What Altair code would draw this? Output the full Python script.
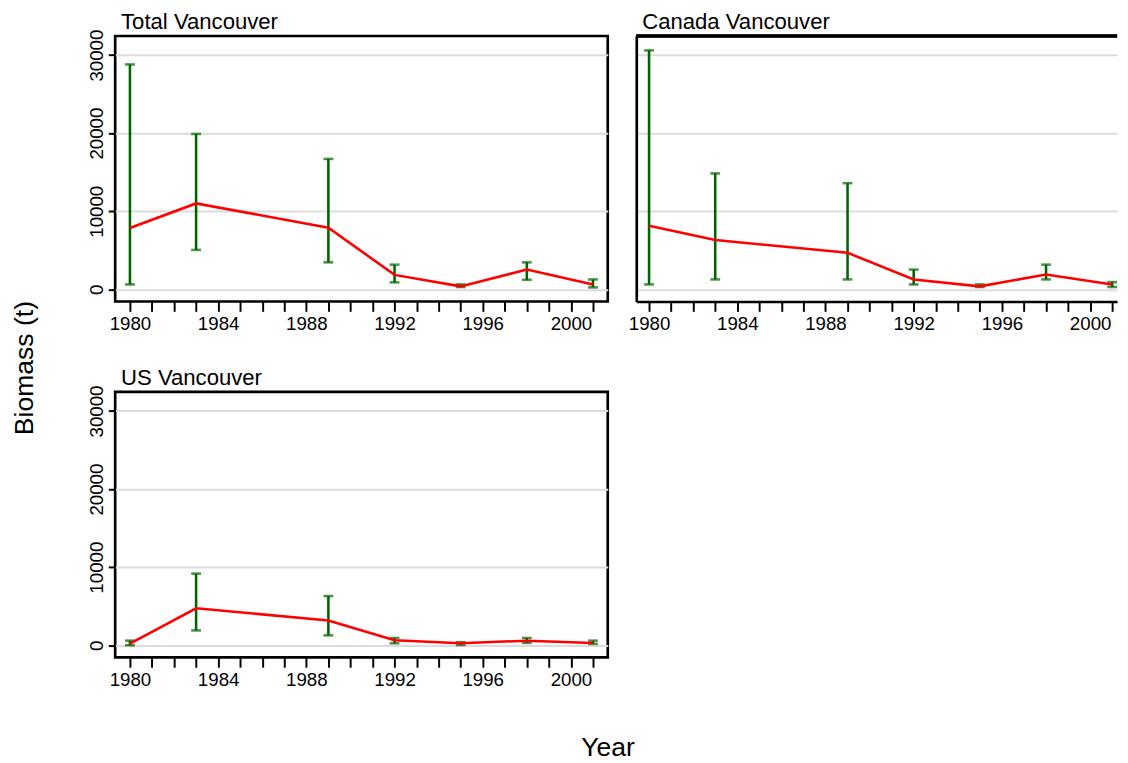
import altair as alt
import pandas as pd

years = [1980, 1983, 1989, 1992, 1995, 1998, 2001]

total_est = [7850, 11000, 7900, 1850, 380, 2530, 630]
total_lo = [630, 5050, 3460, 890, 300, 1220, 250]
total_hi = [28800, 19900, 16700, 3160, 630, 3460, 1270]

canada_est = [8150, 6330, 4680, 1270, 380, 1900, 630]
canada_lo = [630, 1270, 1270, 630, 300, 1270, 300]
canada_hi = [30600, 14850, 13600, 2530, 630, 3160, 930]

us_est = [200, 4730, 3170, 630, 250, 590, 300]
us_lo = [0, 1900, 1270, 250, 30, 300, 170]
us_hi = [590, 9170, 6300, 930, 400, 930, 590]

panel_titles = ["Total Vancouver", "Canada Vancouver", "US Vancouver"]
tick_years = list(range(1980, 2002))
y_ticks = [0, 10000, 20000, 30000]

FONT = "Liberation Sans"
GREEN = "#006400"
RED = "#ff0000"
GRID = "#dcdcdc"
Y_DOMAIN = [-1554, 32440]
H = 270
PAD = {"left": 3, "top": -5, "right": 0, "bottom": 0}


def make_df(est, lo, hi):
    return pd.DataFrame({"year": years, "est": est, "lo": lo, "hi": hi})


def panel(df, title, width, xdomain, show_y, title_offset, open_right=False):
    xs = alt.Scale(domain=xdomain, nice=False, zero=False)
    ys = alt.Scale(domain=Y_DOMAIN, nice=False, zero=False)
    xaxis = alt.Axis(
        values=tick_years, format="d",
        labelExpr="(datum.value - 1980) % 4 == 0 ? datum.label : ''",
        title=None, grid=False, domain=open_right, domainColor="black",
        domainWidth=2.7, ticks=True, tickSize=10, tickWidth=2,
        tickColor="black", labelFontSize=19, labelPadding=4, labelFont=FONT,
        labelColor="black", labelFlush=False, labelOverlap=False,
    )
    yaxis = alt.Axis(
        values=y_ticks, format="d", title=None, grid=True, gridColor=GRID,
        gridWidth=2, domain=open_right, domainColor="black", domainWidth=2.7,
        labels=show_y, ticks=show_y, tickSize=7, tickWidth=2,
        tickColor="black", labelAngle=270, labelAlign="center",
        labelBaseline="bottom", labelPadding=2, labelFontSize=19,
        labelFont=FONT, labelColor="black",
    )
    X = alt.X("year:Q", scale=xs, axis=xaxis)
    base = alt.Chart(df)
    bars = base.mark_rule(color=GREEN, strokeWidth=2.6).encode(
        x=X, y=alt.Y("lo:Q", scale=ys, axis=yaxis), y2="hi:Q")
    cap_lo = base.mark_tick(color=GREEN, thickness=2.6, size=10,
                            orient="horizontal").encode(
        x=X, y=alt.Y("lo:Q", scale=ys, axis=yaxis))
    cap_hi = base.mark_tick(color=GREEN, thickness=2.6, size=10,
                            orient="horizontal").encode(
        x=X, y=alt.Y("hi:Q", scale=ys, axis=yaxis))
    line = base.mark_line(color=RED, strokeWidth=2.6).encode(
        x=X, y=alt.Y("est:Q", scale=ys, axis=yaxis))
    layers = [bars, cap_lo, cap_hi, line]
    props = dict(
        width=width, height=H,
        title=alt.TitleParams(title, anchor="start", frame="group",
                              fontSize=22.5, font=FONT, fontWeight="normal",
                              color="black", offset=title_offset, dx=6),
    )
    if open_right:
        top = base.mark_rule(color="black", strokeWidth=2.7).encode(
            x=alt.value(0), x2=alt.value(width), y=alt.value(0))
        layers.append(top)
        props["view"] = alt.ViewBackground(stroke="transparent")
    return alt.layer(*layers).properties(**props)


p1 = panel(make_df(total_est, total_lo, total_hi), panel_titles[0], 501,
           [1979.33, 2001.67], True, -4)
p2 = panel(make_df(canada_est, canada_lo, canada_hi), panel_titles[1], 489,
           [1979.42, 2001.22], False, 1, open_right=True)
p3 = panel(make_df(us_est, us_lo, us_hi), panel_titles[2], 501,
           [1979.33, 2001.67], True, -4)

row1 = alt.hconcat(p1, p2, spacing=17)
grid = alt.vconcat(row1, p3, spacing=30).properties(
    title=alt.TitleParams("Biomass (t)", orient="left", anchor="middle",
                          fontSize=27, font=FONT, fontWeight="normal",
                          color="black", offset=48, dx=-18))
chart = alt.vconcat(grid).properties(
    title=alt.TitleParams("Year", orient="bottom", anchor="middle",
                          fontSize=27, font=FONT, fontWeight="normal",
                          color="black", offset=45, dx=43),
    padding=PAD,
    background="white",
).configure_view(stroke="black", strokeWidth=2.7)

chart.save("out.html", embed_options={"renderer": "svg", "actions": False})
